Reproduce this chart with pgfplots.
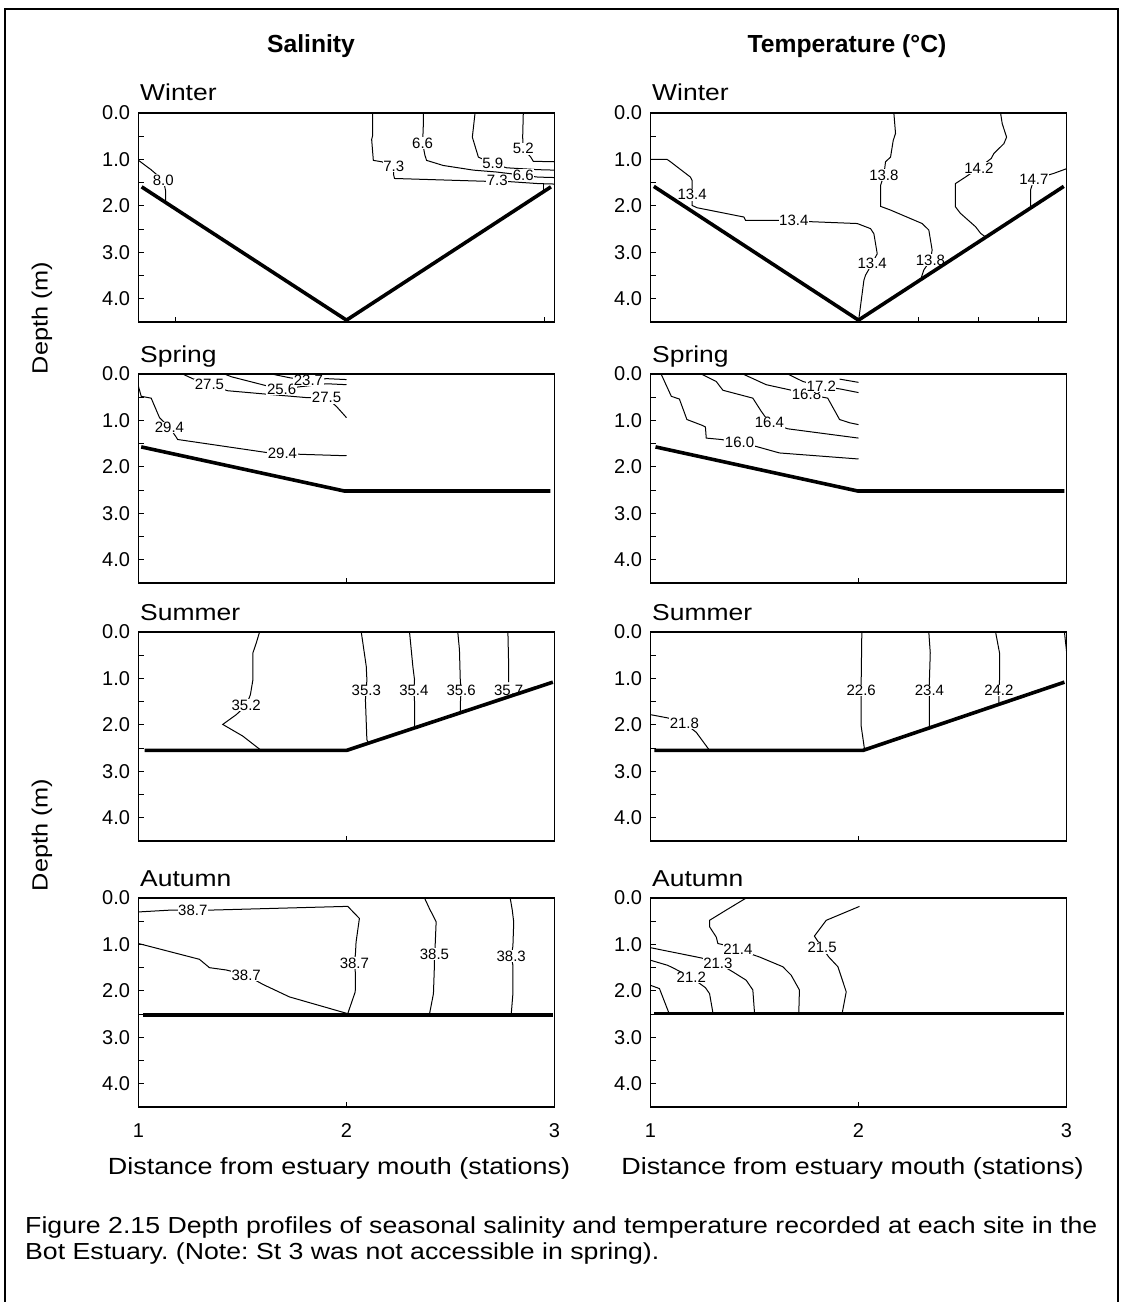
\documentclass[border=0pt]{standalone}
\usepackage{fontspec}
\setmainfont{Liberation Sans}
\newfontfamily\wide{Liberation Sans}[FakeStretch=1.15]
\usepackage{pgfplots}
\pgfplotsset{compat=1.18}
\frenchspacing
\pgfplotsset{
  panel/.style={scale only axis, width=416pt, height=209pt,
    xmin=1, xmax=3, ymin=0, ymax=4.5, y dir=reverse, clip=false,
    ytick={0,1,2,3,4}, minor ytick={0.5,1.5,2.5,3.5},
    ytick pos=left, xtick pos=bottom, tick align=inside,
    major tick length=5pt, minor tick length=5pt,
    every tick/.style={black, line width=0.9pt},
    axis line style={line width=1.3pt},
    /pgf/number format/assume math mode=true,
    yticklabel style={font=\fontsize{20}{24}\selectfont, xshift=-5pt,
      /pgf/number format/fixed, /pgf/number format/fixed zerofill,
      /pgf/number format/precision=1},
    xticklabel style={font=\fontsize{20}{24}\selectfont, yshift=-13pt},
    xtick={2}, xticklabels={}},
  ctr/.style={black, line width=1pt, mark=none},
  bed/.style={black, line width=3.6pt, mark=none},
}
\tikzset{
  lbl/.style={fill=white, inner sep=0.6pt, font=\fontsize{15}{18}\selectfont},
  lbln/.style={inner sep=0.6pt, font=\fontsize{15}{18}\selectfont},
  ttl/.style={anchor=base west, inner sep=0, xshift=1.5pt, yshift=12pt, font=\wide\fontsize{23}{26}\selectfont},
}
\begin{document}
\begin{tikzpicture}
\useasboundingbox (0pt,0pt) rectangle (1125pt,1302pt);
% frame
\draw[line width=2pt] (5pt,0pt) -- (5pt,1293pt) -- (1118pt,1293pt) -- (1118pt,0pt);
% headers
\node[anchor=base, inner sep=0, font=\bfseries\fontsize{24.7}{28}\selectfont] at (311pt,1249.3pt) {Salinity};
\node[anchor=base, inner sep=0, font=\bfseries\fontsize{24.7}{28}\selectfont] at (847pt,1249.3pt) {Temperature (°C)};
% depth labels
\node[rotate=90, inner sep=0, font=\wide\fontsize{22}{26}\selectfont] at (42pt,984pt) {Depth (m)};
\node[rotate=90, inner sep=0, font=\wide\fontsize{22}{26}\selectfont] at (42pt,467pt) {Depth (m)};
% x labels
\node[anchor=base, inner sep=0, font=\wide\fontsize{23.4}{26}\selectfont] at (339pt,127pt) {Distance from estuary mouth (stations)};
\node[anchor=base, inner sep=0, font=\wide\fontsize{23.4}{26}\selectfont] at (852.5pt,127pt) {Distance from estuary mouth (stations)};
% caption
\node[anchor=base west, inner sep=0, font=\wide\fontsize{23.2}{26}\selectfont] at (25pt,68.7pt) {Figure 2.15 Depth profiles of seasonal salinity and temperature recorded at each site in the};
\node[anchor=base west, inner sep=0, font=\wide\fontsize{23.2}{26}\selectfont] at (25pt,42.7pt) {Bot Estuary. (Note: St 3 was not accessible in spring).};

%% ===== Winter salinity
\begin{axis}[panel, at={(138.5pt,980pt)}, anchor=south west, xtick={1.18,2.954}]
\addplot[ctr] coordinates {(1.0,1.02) (1.06,1.22) (1.12,1.45) (1.13,1.67) (1.13,1.92)};
\addplot[ctr] coordinates {(2.126,0) (2.126,0.48) (2.121,0.57) (2.129,1.02) (2.169,1.05) (2.227,1.15) (2.227,1.34) (2.231,1.41) (2.666,1.47) (2.725,1.46) (2.922,1.52) (3.0,1.53)};
\addplot[ctr] coordinates {(2.947,1.53) (2.947,1.66)};
\addplot[ctr] coordinates {(2.369,0) (2.369,0.30) (2.366,0.65) (2.377,0.91) (2.385,1.02) (2.465,1.13) (2.610,1.23) (2.72,1.27) (2.850,1.34) (2.92,1.38) (3.0,1.39)};
\addplot[ctr] coordinates {(2.618,0) (2.605,0.52) (2.634,0.95) (2.703,1.09) (2.77,1.18) (2.92,1.22) (3.0,1.23)};
\addplot[ctr] coordinates {(2.850,0) (2.847,0.52) (2.850,0.77) (2.886,0.95) (2.898,1.04) (3.0,1.05)};
\node[lbl] at (axis cs:1.119,1.45) {8.0};
\node[lbl] at (axis cs:2.227,1.15) {7.3};
\node[lbl] at (axis cs:2.366,0.65) {6.6};
\node[lbl] at (axis cs:2.703,1.09) {5.9};
\node[lbl] at (axis cs:2.850,0.77) {5.2};
\node[lbl] at (axis cs:2.850,1.34) {6.6};
\node[lbl] at (axis cs:2.725,1.46) {7.3};
\addplot[bed] coordinates {(1.015,1.59) (2.0,4.46) (2.983,1.59)};
\node[ttl] at (axis description cs:0,1) {Winter};
\end{axis}

%% ===== Winter temperature
\begin{axis}[panel, at={(650.5pt,980pt)}, anchor=south west, xtick={2.29,2.575,2.864}]
\addplot[ctr] coordinates {(1.0,1.0) (1.080,1.0) (1.096,1.05) (1.192,1.38) (1.200,1.45) (1.200,1.76) (1.200,1.99) (1.224,2.04) (1.449,2.24) (1.457,2.31) (1.601,2.31) (1.689,2.32) (1.769,2.34) (1.994,2.38) (2.058,2.49) (2.074,2.60) (2.090,3.03) (2.066,3.24) (2.034,3.49) (2.026,3.60) (2.002,4.42)};
\addplot[ctr] coordinates {(2.170,0) (2.178,0.44) (2.167,0.59) (2.154,0.95) (2.130,1.05) (2.122,1.34) (2.106,1.56) (2.106,2.01) (2.154,2.09) (2.306,2.38) (2.338,2.52) (2.354,2.95) (2.346,3.17) (2.314,3.38) (2.298,3.60)};
\addplot[ctr] coordinates {(2.683,0) (2.691,0.23) (2.712,0.52) (2.699,0.66) (2.651,0.87) (2.638,0.98) (2.579,1.18) (2.514,1.38) (2.466,1.52) (2.466,2.02) (2.490,2.16) (2.563,2.45) (2.587,2.59) (2.611,2.67)};
\addplot[ctr] coordinates {(3.0,1.20) (2.939,1.30) (2.843,1.43) (2.827,1.66) (2.827,2.01)};
\node[lbl] at (axis cs:1.200,1.76) {13.4};
\node[lbl] at (axis cs:1.689,2.32) {13.4};
\node[lbl] at (axis cs:2.066,3.24) {13.4};
\node[lbl] at (axis cs:2.122,1.34) {13.8};
\node[lbl] at (axis cs:2.346,3.17) {13.8};
\node[lbl] at (axis cs:2.579,1.18) {14.2};
\node[lbl] at (axis cs:2.843,1.43) {14.7};
\addplot[bed] coordinates {(1.016,1.58) (2.0,4.46) (2.987,1.58)};
\node[ttl] at (axis description cs:0,1) {Winter};
\end{axis}

%% ===== Spring salinity
\begin{axis}[panel, at={(138.5pt,719pt)}, anchor=south west]
\addplot[ctr] coordinates {(1.0,0.27) (1.013,0.48) (1.061,0.52) (1.101,0.94) (1.149,1.15) (1.183,1.37) (1.188,1.41) (1.356,1.52) (1.615,1.69) (1.692,1.71) (1.784,1.73) (2.0,1.76)};
\addplot[ctr] coordinates {(1.212,0) (1.260,0.10) (1.341,0.23) (1.428,0.36) (1.630,0.44) (1.813,0.51) (1.904,0.51) (1.952,0.70) (2.0,0.94)};
\addplot[ctr] coordinates {(1.413,0) (1.447,0.06) (1.630,0.27) (1.688,0.32) (1.904,0.21) (2.0,0.23)};
\addplot[ctr] coordinates {(1.639,0) (1.726,0.08) (1.817,0.14) (1.904,0.10) (2.0,0.12)};
\node[lbl] at (axis cs:1.149,1.15) {29.4};
\node[lbl] at (axis cs:1.692,1.71) {29.4};
\node[lbl] at (axis cs:1.341,0.23) {27.5};
\node[lbl] at (axis cs:1.904,0.51) {27.5};
\node[lbl] at (axis cs:1.688,0.32) {25.6};
\node[lbl] at (axis cs:1.817,0.14) {23.7};
\addplot[bed] coordinates {(1.013,1.57) (1.99,2.52) (2.98,2.52)};
\node[ttl] at (axis description cs:0,1) {Spring};
\end{axis}

%% ===== Spring temperature
\begin{axis}[panel, at={(650.5pt,719pt)}, anchor=south west]
\addplot[ctr] coordinates {(1.051,0) (1.100,0.48) (1.139,0.54) (1.175,0.98) (1.251,1.11) (1.264,1.14) (1.268,1.38) (1.340,1.41) (1.428,1.48) (1.508,1.56) (1.620,1.70) (2.0,1.83)};
\addplot[ctr] coordinates {(1.244,0) (1.316,0.16) (1.348,0.35) (1.492,0.52) (1.532,0.80) (1.572,1.05) (1.660,1.18) (2.0,1.38)};
\addplot[ctr] coordinates {(1.444,0) (1.556,0.23) (1.668,0.34) (1.750,0.43) (1.852,0.52) (1.909,0.98) (1.957,1.05) (2.0,1.09)};
\addplot[ctr] coordinates {(1.660,0) (1.732,0.16) (1.821,0.27) (1.909,0.32) (2.0,0.40)};
\addplot[ctr] coordinates {(1.909,0.11) (2.0,0.18)};
\node[lbl] at (axis cs:1.428,1.48) {16.0};
\node[lbl] at (axis cs:1.572,1.05) {16.4};
\node[lbl] at (axis cs:1.750,0.43) {16.8};
\node[lbl] at (axis cs:1.821,0.26) {17.2};
\addplot[bed] coordinates {(1.024,1.57) (1.997,2.52) (2.99,2.52)};
\node[ttl] at (axis description cs:0,1) {Spring};
\end{axis}

%% ===== Summer salinity
\begin{axis}[panel, at={(138.5pt,461pt)}, anchor=south west]
\addplot[ctr] coordinates {(1.582,0) (1.566,0.24) (1.550,0.45) (1.550,1.03) (1.538,1.35) (1.518,1.58) (1.470,1.78) (1.405,1.99) (1.501,2.24) (1.590,2.55)};
\addplot[ctr] coordinates {(2.071,0) (2.095,0.74) (2.098,1.03) (2.095,1.26) (2.091,1.46) (2.098,2.32) (2.107,2.40)};
\addplot[ctr] coordinates {(2.303,0) (2.319,0.74) (2.327,1.03) (2.324,1.26) (2.327,1.49) (2.327,2.03)};
\addplot[ctr] coordinates {(2.535,0) (2.543,0.38) (2.547,1.03) (2.551,1.26) (2.548,1.49) (2.548,1.71)};
\addplot[ctr] coordinates {(2.776,0) (2.779,0.60) (2.780,1.08)};
\node[lbl] at (axis cs:1.518,1.58) {35.2};
\node[lbl] at (axis cs:2.095,1.26) {35.3};
\node[lbl] at (axis cs:2.324,1.26) {35.4};
\node[lbl] at (axis cs:2.551,1.26) {35.6};
\addplot[bed] coordinates {(1.029,2.55) (2.0,2.55) (2.992,1.08)};
\node[lbln] at (axis cs:2.780,1.26) {35.7};
\node[ttl] at (axis description cs:0,1) {Summer};
\end{axis}

%% ===== Summer temperature
\begin{axis}[panel, at={(650.5pt,461pt)}, anchor=south west]
\addplot[ctr] coordinates {(1.0,1.78) (1.083,1.85) (1.163,1.96) (1.220,2.16) (1.284,2.55)};
\addplot[ctr] coordinates {(2.016,0) (2.013,1.03) (2.013,1.26) (2.013,1.53) (2.013,2.03) (2.029,2.53)};
\addplot[ctr] coordinates {(2.338,0) (2.345,0.45) (2.341,1.03) (2.341,1.26) (2.341,1.49) (2.341,2.05)};
\addplot[ctr] coordinates {(2.659,0) (2.678,0.45) (2.678,1.03) (2.675,1.26) (2.675,1.55)};
\addplot[ctr] coordinates {(2.990,0) (3.0,0.41)};
\node[lbl] at (axis cs:1.163,1.96) {21.8};
\node[lbl] at (axis cs:2.013,1.26) {22.6};
\node[lbl] at (axis cs:2.341,1.26) {23.4};
\node[lbl] at (axis cs:2.675,1.26) {24.2};
\addplot[bed] coordinates {(1.019,2.55) (2.021,2.55) (2.990,1.08)};
\node[ttl] at (axis description cs:0,1) {Summer};
\end{axis}

%% ===== Autumn salinity
\begin{axis}[panel, at={(138.5pt,195pt)}, anchor=south west, xtick={1,2,3}, xticklabels={1,2,3}]
\addplot[ctr] coordinates {(1.0,0.30) (1.157,0.26) (1.261,0.26) (1.350,0.26) (2.006,0.18) (2.062,0.44) (2.046,0.95) (2.043,1.20) (2.038,1.40) (2.043,1.63) (2.042,2.02) (2.006,2.49)};
\addplot[ctr] coordinates {(1.0,0.98) (1.293,1.32) (1.341,1.50) (1.422,1.55) (1.518,1.66) (1.598,1.86) (1.726,2.13) (2.006,2.49)};
\addplot[ctr] coordinates {(2.375,0) (2.399,0.23) (2.431,0.51) (2.426,1.05) (2.423,1.21) (2.423,1.41) (2.418,2.06) (2.399,2.50)};
\addplot[ctr] coordinates {(2.787,0) (2.797,0.26) (2.804,0.52) (2.800,1.04) (2.792,1.25) (2.800,1.45) (2.800,2.06) (2.792,2.50)};
\node[lbl] at (axis cs:1.261,0.26) {38.7};
\node[lbl] at (axis cs:2.038,1.40) {38.7};
\node[lbl] at (axis cs:1.518,1.66) {38.7};
\node[lbl] at (axis cs:2.423,1.21) {38.5};
\node[lbl] at (axis cs:2.792,1.25) {38.3};
\addplot[bed] coordinates {(1.021,2.52) (2.995,2.52)};
\node[ttl] at (axis description cs:0,1) {Autumn};
\end{axis}

%% ===== Autumn temperature
\begin{axis}[panel, at={(650.5pt,195pt)}, anchor=south west, xtick={1,2,3}, xticklabels={1,2,3}]
\addplot[ctr] coordinates {(1.0,1.88) (1.043,1.95) (1.088,2.47)};
\addplot[ctr] coordinates {(1.0,1.34) (1.083,1.45) (1.115,1.52) (1.196,1.71) (1.264,1.93) (1.284,2.06) (1.300,2.47)};
\addplot[ctr] coordinates {(1.0,1.07) (1.244,1.29) (1.324,1.40) (1.396,1.59) (1.460,1.77) (1.492,1.98) (1.500,2.47)};
\addplot[ctr] coordinates {(1.460,0) (1.364,0.26) (1.284,0.48) (1.284,0.62) (1.316,0.84) (1.324,0.98) (1.364,1.02) (1.420,1.11) (1.524,1.27) (1.636,1.48) (1.676,1.66) (1.716,1.98) (1.713,2.47)};
\addplot[ctr] coordinates {(2.005,0.18) (1.845,0.48) (1.788,0.82) (1.825,1.07) (1.857,1.27) (1.901,1.48) (1.941,2.02) (1.922,2.47)};
\node[lbl] at (axis cs:1.196,1.71) {21.2};
\node[lbl] at (axis cs:1.324,1.40) {21.3};
\node[lbl] at (axis cs:1.420,1.11) {21.4};
\node[lbl] at (axis cs:1.825,1.07) {21.5};
\addplot[bed] coordinates {(1.019,2.49) (2.990,2.49)};
\node[ttl] at (axis description cs:0,1) {Autumn};
\end{axis}
\end{tikzpicture}
\end{document}
